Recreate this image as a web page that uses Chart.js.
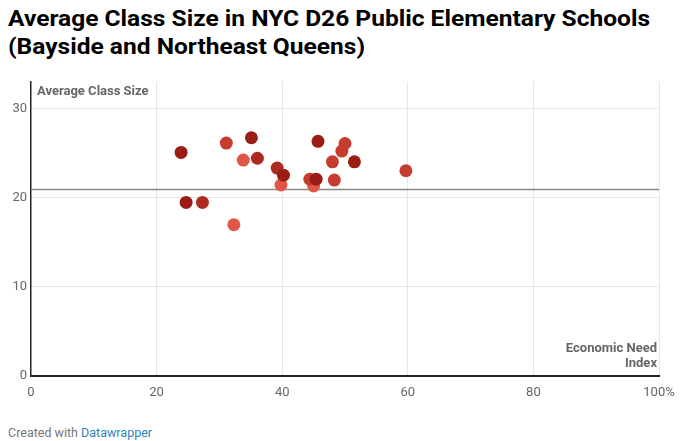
<!DOCTYPE html>
<html><head><meta charset="utf-8">
<script src="https://cdn.jsdelivr.net/npm/chart.js@4"></script>
<style>
html,body{margin:0;padding:0;background:#fff;width:680px;height:441px;overflow:hidden;font-family:Roboto,sans-serif}
#title{position:absolute;left:8px;top:4px;font-family:Roboto;font-weight:700;font-size:22.5px;line-height:28px;color:#000;white-space:nowrap}
#title span{display:block;transform-origin:0 50%}
#wrap{position:absolute;left:0;top:72px;width:680px;height:333px}
#foot{position:absolute;left:8px;top:425px;font-family:Roboto;font-size:12.5px;color:#777}
#foot a{color:#2f84b9;text-decoration:none}
</style></head><body>
<div id="title"><span id="t1">Average Class Size in NYC D26 Public Elementary Schools</span><span id="t2">(Bayside and Northeast Queens)</span></div>
<div id="wrap"><canvas id="c"></canvas></div>
<div id="foot">Created with <a>Datawrapper</a></div>
<script>
// Data
const economicNeedIndex = [33.8, 39.8, 45.0, 32.3, 31.1, 49.5, 50.0, 48.0, 44.4, 48.3, 59.7, 39.2, 27.3, 36.05, 23.9, 35.1, 40.2, 45.7, 51.5, 45.4, 24.7];
const avgClassSize      = [24.2, 21.4, 21.3, 16.95, 26.1, 25.2, 26.05, 24.0, 22.06, 21.95, 23.0, 23.3, 19.45, 24.4, 25.05, 26.7, 22.5, 26.3, 24.0, 22.06, 19.45];
const shadeLevel        = [0, 0, 0, 0, 1, 1, 1, 1, 1, 1, 1, 2, 2, 2, 3, 3, 3, 3, 3, 3, 3];
const averageLine = 20.9;
const xTicks = [0, 20, 40, 60, 80, 100];
const yTicks = [0, 10, 20, 30];
const yAxisLabel = 'Average Class Size';
const xAxisLabel = ['Economic Need', 'Index'];

const palette = ['#e05748', '#c63d2f', '#ad2a20', '#9b1b15'];
const points = economicNeedIndex.map((x, i) => ({x: x, y: avgClassSize[i]}));
const colors = shadeLevel.map(s => palette[s]);

// fit title widths
(function(){
  const t1 = document.getElementById('t1');
  const t2 = document.getElementById('t2');
  t1.style.display='inline-block'; t2.style.display='inline-block';
  const w1 = t1.getBoundingClientRect().width;
  const s = 642 / w1;
  t1.style.transform = 'scaleX(' + s + ')';
  t2.style.transform = 'scaleX(' + s + ')';
  t1.style.display='block'; t2.style.display='block';
})();

const overlay = {
  id: 'overlay',
  beforeDatasetsDraw(chart) {
    const {ctx, chartArea, scales} = chart;
    const y = scales.y.getPixelForValue(averageLine);
    ctx.save();
    ctx.strokeStyle = '#888';
    ctx.lineWidth = 1.5;
    ctx.beginPath(); ctx.moveTo(chartArea.left, y); ctx.lineTo(chartArea.right, y); ctx.stroke();
    ctx.restore();
  },
  afterDraw(chart) {
    const {ctx, chartArea} = chart;
    ctx.save();
    ctx.fillStyle = '#666';
    ctx.font = 'bold 13px Roboto';
    ctx.textBaseline = 'alphabetic';
    ctx.textAlign = 'left';
    ctx.fillText(yAxisLabel, chartArea.left + 6, chartArea.top + 13);
    ctx.textAlign = 'right';
    ctx.fillText(xAxisLabel[0], chartArea.right - 2, chartArea.bottom - 24);
    ctx.fillText(xAxisLabel[1], chartArea.right - 2, chartArea.bottom - 9);
    ctx.restore();
  }
};

new Chart(document.getElementById('c'), {
  type: 'scatter',
  data: { datasets: [{
    data: points,
    backgroundColor: colors,
    borderColor: colors,
    borderWidth: 0,
    pointRadius: 6.5,
    pointHoverRadius: 6.5
  }]},
  options: {
    responsive: true,
    maintainAspectRatio: false,
    animation: false,
    layout: { padding: { top: 9.5, right: 21, left: 0, bottom: 0 } },
    plugins: { legend: {display:false}, tooltip: {enabled:false} },
    scales: {
      x: {
        type: 'linear', min: 0, max: 100,
        afterBuildTicks: s => { s.ticks = xTicks.map(v => ({value: v})); },
        afterFit: s => { s.height = 29; s.paddingLeft = 0; s.paddingRight = 0; },
        ticks: { color: '#666', font: {family:'Roboto', size: 13}, padding: 9,
          callback: v => v === 100 ? '100%' : String(v), maxRotation: 0 },
        grid: { color: c => c.tick && c.tick.value === 0 ? 'rgba(0,0,0,0)' : '#e6e6e6', lineWidth: 1, drawTicks: false },
        border: { color: '#222', width: 2 }
      },
      y: {
        type: 'linear', min: 0, max: 33,
        afterBuildTicks: s => { s.ticks = yTicks.map(v => ({value: v})); },
        afterFit: s => { s.width = 31; s.paddingTop = 0; s.paddingBottom = 0; },
        ticks: { color: '#666', font: {family:'Roboto', size: 13}, padding: 4 },
        grid: { color: '#e6e6e6', lineWidth: 1, drawTicks: false },
        border: { color: '#222', width: 1.5 }
      }
    }
  },
  plugins: [overlay]
});
</script>
</body></html>
